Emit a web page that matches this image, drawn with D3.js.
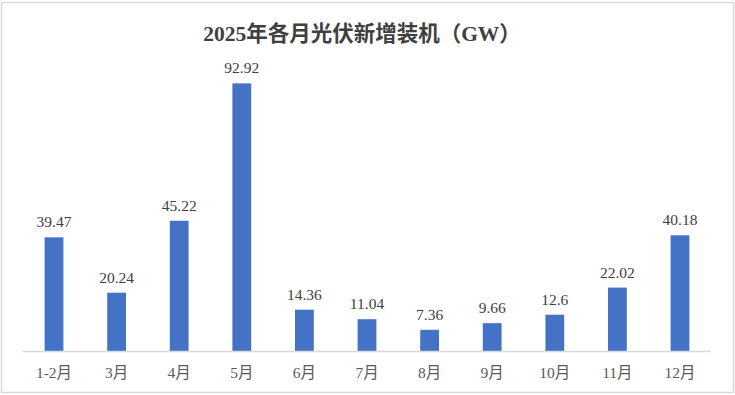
<!DOCTYPE html>
<html>
<head>
<meta charset="utf-8">
<script src="https://cdn.jsdelivr.net/npm/d3@7"></script>
<style>
  body { margin: 0; background: #fff; }
  text { font-family: "Times New Roman", "Liberation Serif", "DejaVu Serif", "Noto Sans CJK SC", serif; }
</style>
</head>
<body>
<div class="main"></div>
<script>

const months = ["1-2月", "3月", "4月", "5月", "6月", "7月", "8月", "9月", "10月", "11月", "12月"]
const values = [39.47, 20.24, 45.22, 92.92, 14.36, 11.04, 7.36, 9.66, 12.6, 22.02, 40.18]
const valueLabels = ["39.47", "20.24", "45.22", "92.92", "14.36", "11.04", "7.36", "9.66", "12.6", "22.02", "40.18"]
const title = "2025年各月光伏新增装机（GW）"

const fontStack = "\"Times New Roman\", \"Liberation Serif\", \"DejaVu Serif\", \"Noto Sans CJK SC\", serif"

const chart = () => {

    // canvas
    const w = 735
    const h = 395
    const padding = { top: 63, right: 24, bottom: 44, left: 23 }

    const svg = d3.select(".main")
        .append("svg")
        .attr("width", w)
        .attr("height", h)

    svg.append("rect")
        .attr("x", 1.5)
        .attr("y", 2.5)
        .attr("width", w - 3)
        .attr("height", h - 5)
        .attr("fill", "#fff")
        .attr("stroke", "#d9d9d9")
        .attr("stroke-width", 1.5)

    svg.append("text")
        .attr("x", 362)
        .attr("y", 41)
        .attr("text-anchor", "middle")
        .style("font-size", "21.5px")
        .style("font-weight", "bold")
        .style("fill", "#404040")
        .text(title)

    // scales
    const xScale = d3.scaleBand()
        .domain(months)
        .range([22.7, 711.3])
        .paddingInner(0.7)
        .paddingOuter(0.35)

    const yScale = d3.scaleLinear()
        .domain([0, 100])
        .range([h - padding.bottom, padding.top])

    // bars
    svg.selectAll(".bar")
        .data(values)
        .enter()
        .append("rect")
        .attr("class", "bar")
        .attr("x", (d, i) => xScale(months[i]))
        .attr("width", xScale.bandwidth())
        .attr("y", d => yScale(d))
        .attr("height", d => yScale(0) - yScale(d))
        .attr("fill", "#4472c4")

    svg.selectAll(".val")
        .data(values)
        .enter()
        .append("text")
        .attr("class", "val")
        .attr("x", (d, i) => xScale(months[i]) + xScale.bandwidth() / 2)
        .attr("y", d => yScale(d) - 10)
        .attr("text-anchor", "middle")
        .style("font-size", "15.5px")
        .style("fill", "#404040")
        .text((d, i) => valueLabels[i])

    // axis
    const xAxis = d3.axisBottom(xScale).tickSize(0).tickPadding(16)

    const xAxisDefined = svg.append("g")
        .attr("transform", `translate(0, ${h - padding.bottom})`)
        .call(xAxis)

    xAxisDefined.select(".domain")
        .attr("d", `M${padding.left},0.5H${w - padding.right}`)
        .attr("stroke", "#d9d9d9")
        .attr("stroke-width", 1.5)

    xAxisDefined.selectAll("text")
        .style("font-size", "15.5px")
        .style("font-family", fontStack)
        .style("fill", "#595959")
}

chart()

</script>
</body>
</html>
